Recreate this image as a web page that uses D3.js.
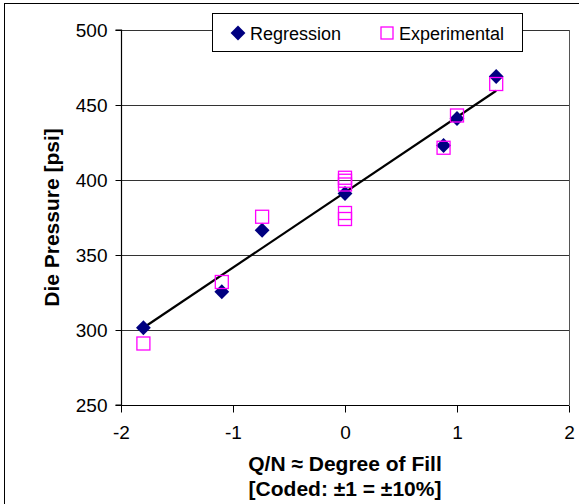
<!DOCTYPE html>
<html>
<head>
<meta charset="utf-8">
<script src="https://cdn.jsdelivr.net/npm/d3@7"></script>
<style>
  html, body { margin: 0; padding: 0; background: #fff; }
  svg { display: block; }
  text { font-family: "Liberation Sans", Arial, sans-serif; fill: #000; }
</style>
</head>
<body>
<svg id="chart" width="579" height="504"></svg>
<script>
// Coded Q/N levels (degree of fill) and die pressure readings
const regressionX = [-1.8, -1.1, -0.74, 0, 0.88, 1.0, 1.35];
const regressionY = [301.5, 325.5, 366.5, 391, 423, 441, 469];

const experimentalX = [-1.8, -1.1, -0.74, 0, 0, 0, 0, 0, 0.88, 1.0, 1.35];
const experimentalY = [291, 332, 375.5, 401.5, 399.5, 397, 378, 374, 421.5, 443, 464];

// Fitted trend line end points
const fitX = [-1.8, 1.35];
const fitY = [301.5, 459.5];

const xTicks = [-2, -1, 0, 1, 2];
const yTicks = [250, 300, 350, 400, 450, 500];

const seriesNames = ["Regression", "Experimental"];

const svg = d3.select("#chart");

// Outer chart frame
svg.append("rect")
  .attr("x", 4.5).attr("y", 3.5)
  .attr("width", 700).attr("height", 700)
  .attr("fill", "none").attr("stroke", "#000").attr("stroke-width", 1);

const plot = { left: 121, right: 569, top: 30, bottom: 405 };

const x = d3.scaleLinear().domain([-2, 2]).range([plot.left, plot.right]);
const y = d3.scaleLinear().domain([250, 500]).range([plot.bottom, plot.top]);

// Horizontal gridlines
svg.append("g")
  .selectAll("line")
  .data(yTicks.filter(v => v > 250))
  .join("line")
  .attr("x1", plot.left).attr("x2", plot.right)
  .attr("y1", d => Math.round(y(d)) + 0.5).attr("y2", d => Math.round(y(d)) + 0.5)
  .attr("stroke", "#333").attr("stroke-width", 1);

// Right border of the plot area
svg.append("line")
  .attr("x1", plot.right + 0.5).attr("x2", plot.right + 0.5)
  .attr("y1", plot.top).attr("y2", plot.bottom)
  .attr("stroke", "#555").attr("stroke-width", 1);

// Axes
const yAxis = d3.axisLeft(y).tickValues(yTicks).tickSize(6).tickPadding(8).tickFormat(d3.format("d"));
const xAxis = d3.axisBottom(x).tickValues(xTicks).tickSize(7).tickPadding(13).tickFormat(d3.format("d"));

const gy = svg.append("g").attr("transform", `translate(${plot.left + 0.5},0)`).call(yAxis);
const gx = svg.append("g").attr("transform", `translate(0,${plot.bottom + 0.5})`).call(xAxis);

[gx, gy].forEach(g => {
  g.select(".domain").attr("stroke", "#000").attr("stroke-width", 1.2);
  g.selectAll(".tick line").attr("stroke", "#000");
  g.selectAll(".tick text")
    .attr("font-family", "Liberation Sans, Arial, sans-serif")
    .attr("font-size", 19).attr("fill", "#000");
});
gy.select(".domain").attr("d", `M-6,${plot.top}H0V${plot.bottom}H-6`);
gx.select(".domain").attr("d", `M${plot.left},0H${plot.right}`);
// The minus sign is drawn as a plain hyphen
gx.selectAll(".tick text").text(d => String(d).replace("\u2212", "-"));

// Trend line
svg.append("path")
  .datum(fitX.map((v, i) => [v, fitY[i]]))
  .attr("d", d3.line().x(d => x(d[0])).y(d => y(d[1])))
  .attr("fill", "none").attr("stroke", "#000").attr("stroke-width", 2.2);

// Symbols
const diamond = d3.symbol().type(d3.symbolSquare).size(110);
const navy = "#000080";
const magenta = "#FF00FF";

svg.append("g")
  .selectAll("path")
  .data(regressionX.map((v, i) => [v, regressionY[i]]))
  .join("path")
  .attr("d", diamond)
  .attr("transform", d => `translate(${x(d[0])},${y(d[1])}) rotate(45)`)
  .attr("fill", navy);

svg.append("g")
  .selectAll("rect")
  .data(experimentalX.map((v, i) => [v, experimentalY[i]]))
  .join("rect")
  .attr("x", d => x(d[0]) - 6.5).attr("y", d => y(d[1]) - 6.5)
  .attr("width", 13).attr("height", 13)
  .attr("fill", "none").attr("stroke", magenta).attr("stroke-width", 1.3);

// Axis titles
svg.append("text")
  .attr("transform", `translate(59,${(plot.top + plot.bottom) / 2}) rotate(-90)`)
  .attr("text-anchor", "middle")
  .attr("font-weight", "bold").attr("font-size", 21)
  .text("Die Pressure [psi]");

svg.append("text")
  .attr("x", 345).attr("y", 471)
  .attr("text-anchor", "middle")
  .attr("font-weight", "bold").attr("font-size", 21)
  .text("Q/N \u2248 Degree of Fill");

svg.append("text")
  .attr("x", 345).attr("y", 496)
  .attr("text-anchor", "middle")
  .attr("font-weight", "bold").attr("font-size", 21)
  .text("[Coded: \u00b11 = \u00b110%]");

// Legend
const legend = svg.append("g");
legend.append("rect")
  .attr("x", 212.5).attr("y", 13.5).attr("width", 310).attr("height", 38)
  .attr("fill", "#fff").attr("stroke", "#000").attr("stroke-width", 1);

legend.append("path")
  .attr("d", diamond)
  .attr("transform", "translate(238,33) rotate(45)")
  .attr("fill", navy);
legend.append("text")
  .attr("x", 250).attr("y", 39.5)
  .attr("font-size", 18)
  .text(seriesNames[0]);

legend.append("rect")
  .attr("x", 381).attr("y", 27).attr("width", 12).attr("height", 12)
  .attr("fill", "none").attr("stroke", magenta).attr("stroke-width", 1.3);
legend.append("text")
  .attr("x", 399).attr("y", 39.5)
  .attr("font-size", 18)
  .text(seriesNames[1]);
</script>
</body>
</html>
